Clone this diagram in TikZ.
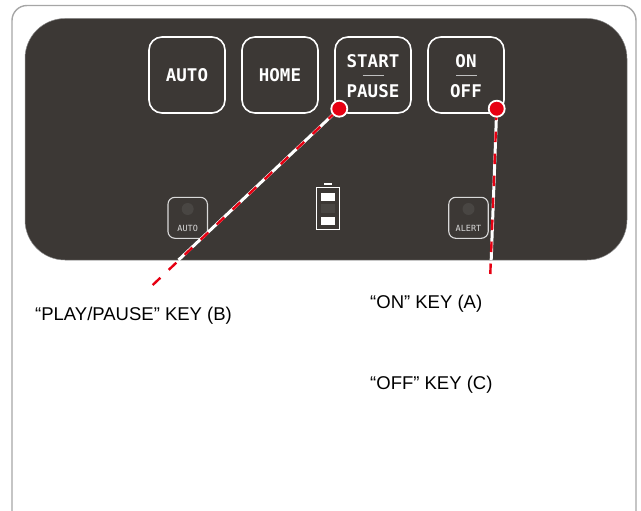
\documentclass[tikz,border=0pt]{standalone}
\usepackage{fontspec}
\setmainfont{Liberation Sans}
\newfontfamily\keyfont{DejaVu Sans Mono}
\usepackage{tikz}
\usetikzlibrary{calc}
\definecolor{paneldark}{HTML}{3C3835}
\definecolor{ledgrey}{HTML}{494643}
\definecolor{dotred}{HTML}{E60012}
\tikzset{
  keybox/.style={draw=white,line width=1.6pt,rounded corners=13pt,minimum width=76pt,minimum height=76pt,inner sep=0pt,text=white,font=\keyfont\fontsize{17.5}{18}\bfseries\selectfont},
  keytext/.style={text=white,inner sep=0pt,font=\keyfont\fontsize{17.5}{18}\bfseries\selectfont},
  smallbox/.style={draw=white!85!black,line width=1.1pt,rounded corners=7pt,minimum width=39.5pt,minimum height=41pt,inner sep=0pt},
  smalltext/.style={text=white!85!black,inner sep=0pt,font=\keyfont\fontsize{8.5}{9}\selectfont},
  reddot/.style={circle,draw=white,fill=dotred,line width=1.8pt,minimum size=16pt,inner sep=0pt},
  keylabel/.style={inner sep=0pt,anchor=west,font=\fontsize{18.5}{20}\selectfont},
  whiteline/.style={white,line width=3pt},
  redline/.style={dotred,line width=2.4pt,dash pattern=on 10.5pt off 11.5pt}
}
\begin{document}
\begin{tikzpicture}[x=1pt,y=-1pt]
\useasboundingbox (0,0) rectangle (641,511);
\draw[line width=1.4pt,color=black!35,rounded corners=15pt] (12,5.5) rectangle (636,531);
\draw[fill=paneldark,draw=black!45,line width=0.5pt,rounded corners=40pt] (25,18.5) rectangle (627,260);

\node[keybox] (auto) at (187,75) {AUTO};
\node[keybox] (home) at (280,75) {HOME};
\node[keybox] (start) at (373,75) {};
\node[keybox] (on) at (466,75) {};
\node[keytext] (starttext) at (373,61) {START};
\node[keytext] (pausetext) at (373,91) {PAUSE};
\node[keytext] (ontext) at (466,61) {ON};
\node[keytext] (offtext) at (466,91) {OFF};
\draw[white!75!black,line width=0.7pt] (362.7,75) -- (384,75);
\draw[white!75!black,line width=0.7pt] (456,75) -- (476.7,75);

\node[smallbox] (autolamp) at (187.7,217.8) {};
\node[smallbox] (alertlamp) at (468.5,217.8) {};
\fill[ledgrey] (187.7,209) circle(6);
\fill[ledgrey] (468.5,209) circle(6);
\node[smalltext] (autotext) at (187.7,228) {AUTO};
\node[smalltext] (alerttext) at (468.5,228) {ALERT};

\draw[white,line width=1.5pt] (316.7,187.3) rectangle (339.3,229.3);
\fill[white] (324.3,182.8) rectangle (332,185);
\fill[white] (321.3,192.7) rectangle (334.7,200.7);
\fill[ledgrey] (321.3,204) rectangle (334.7,213.3);
\fill[white] (321.3,216.7) rectangle (334.7,224.7);

\coordinate (startend) at (152.7,285);
\coordinate (onend) at (490.3,274);
\coordinate (startedge) at (178.5,260);
\coordinate (onedge) at (491.2,260);
\coordinate (startdot) at (339.3,108.7);
\coordinate (ondot) at (496.7,108.7);
\draw[whiteline] (startdot) -- (startedge);
\draw[whiteline] (ondot) -- (onedge);
\draw[redline] (startend) -- (startdot);
\draw[redline] (onend) -- (ondot);
\node[reddot] (startmark) at (startdot) {};
\node[reddot] (onmark) at (ondot) {};

\node[keylabel] (labelb) at (35,316) {“PLAY/PAUSE” KEY (B)};
\node[keylabel] (labela) at (370,304) {“ON” KEY (A)};
\node[keylabel] (labelc) at (370,384.5) {“OFF” KEY (C)};
\end{tikzpicture}
\end{document}
